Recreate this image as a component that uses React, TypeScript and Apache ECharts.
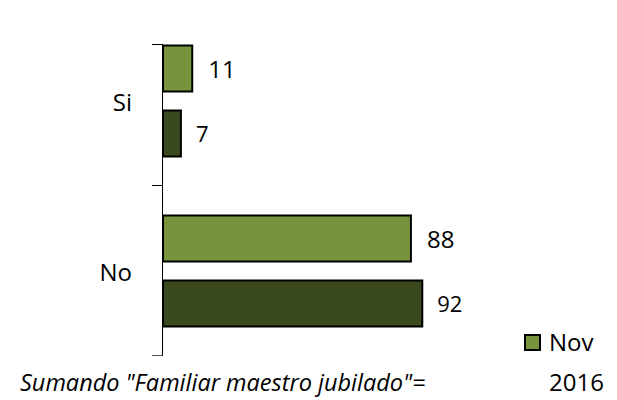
import React, { useEffect, useRef } from "react";
import * as echarts from "echarts";

const categories = ["Si", "No"];
const nov2016 = [11, 88];
const previous = [7, 92];
const seriesNames = ["Nov 2016", "Anterior"];
const footnote = 'Sumando "Familiar maestro jubilado"=';

const LIGHT = "#77933C";
const DARK = "#3B4A1E";
const FONT = "'Open Sans', 'Noto Sans', sans-serif";

export default function App() {
  const ref = useRef<HTMLDivElement>(null);
  useEffect(() => {
    document.body.style.margin = "0";
    if (!ref.current) return;
    const chart = echarts.init(ref.current, null, { renderer: "svg" });
    chart.setOption({
      animation: false,
      backgroundColor: "#ffffff",
      grid: { left: 162, right: 171, top: 16, bottom: 44, containLabel: false },
      xAxis: {
        type: "value",
        min: 0,
        max: 100,
        show: false,
      },
      yAxis: {
        type: "category",
        data: categories,
        inverse: true,
        axisLine: { show: false },
        axisTick: { show: false },
        axisLabel: { fontSize: 24, color: "#000", margin: 30, fontFamily: FONT },
      },
      series: [
        {
          name: seriesNames[0],
          type: "bar",
          data: nov2016,
          barWidth: 48,
          barGap: "35%",
          itemStyle: { color: LIGHT, borderColor: "#000", borderWidth: 2 },
          label: {
            show: true,
            position: "right",
            distance: 15,
            fontSize: 24,
            color: "#000",
            fontFamily: FONT,
          },
        },
        {
          name: seriesNames[1],
          type: "bar",
          data: previous,
          barWidth: 48,
          itemStyle: { color: DARK, borderColor: "#000", borderWidth: 2 },
          label: {
            show: true,
            position: "right",
            distance: 14,
            fontSize: 22,
            color: "#000",
            fontFamily: FONT,
          },
        },
      ],
      graphic: [
        { type: "line", shape: { x1: 162.5, y1: 44, x2: 162.5, y2: 356 }, style: { stroke: "#000", lineWidth: 1 } },
        { type: "line", shape: { x1: 152, y1: 44.5, x2: 162.5, y2: 44.5 }, style: { stroke: "#000", lineWidth: 1 } },
        { type: "line", shape: { x1: 152, y1: 185.5, x2: 162.5, y2: 185.5 }, style: { stroke: "#000", lineWidth: 1 } },
        { type: "line", shape: { x1: 152, y1: 355.5, x2: 162.5, y2: 355.5 }, style: { stroke: "#555", lineWidth: 1 } },
        { type: "rect", shape: { x: 525, y: 335, width: 15, height: 15 }, style: { fill: LIGHT, stroke: "#000", lineWidth: 2 } },
        {
          type: "text",
          x: 549,
          y: 321,
          style: { text: "Nov\n2016", lineHeight: 40, fill: "#000", font: `24px ${FONT}`, textVerticalAlign: "top" },
        },
        {
          type: "text",
          x: 20,
          y: 382,
          style: { text: footnote, fill: "#000", font: `italic 23.5px ${FONT}`, textVerticalAlign: "middle" },
        },
      ],
    });
    return () => chart.dispose();
  }, []);
  return <div ref={ref} style={{ width: 617, height: 400 }} />;
}
